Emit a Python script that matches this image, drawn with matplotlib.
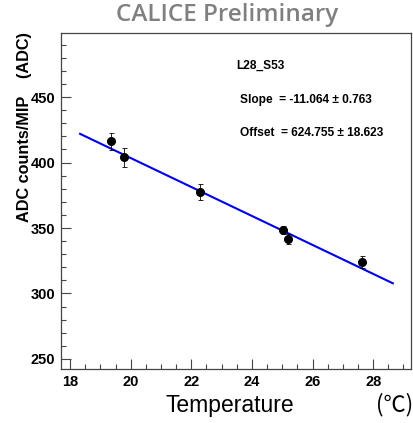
import matplotlib
matplotlib.use('Agg')
import matplotlib.pyplot as plt
from matplotlib.ticker import MultipleLocator
import numpy as np

# Measured points (temperature in C, ADC counts per MIP)
temperature = [19.35, 19.78, 22.29, 25.04, 25.18, 27.64]
adc_per_mip = [416.4, 404.0, 377.7, 348.2, 341.3, 323.8]
adc_error = [6.5, 7.2, 6.0, 3.0, 3.8, 4.5]

# Linear fit result
slope = -11.064
offset = 624.755
fit_range = [18.33, 28.65]

plt.rcParams['font.family'] = ['Liberation Sans', 'DejaVu Sans']

fig = plt.figure(figsize=(4.14, 4.23), dpi=100)
ax = fig.add_axes([0.1473, 0.1277, 0.8455, 0.7943])

fit_x = np.array(fit_range)
ax.plot(fit_x, offset + slope * fit_x, color='#0000ee', linewidth=1.5, zorder=2)
ax.errorbar(temperature, adc_per_mip, yerr=adc_error, fmt='o', color='black',
            markersize=5.5, elinewidth=0.6, capsize=1.8, capthick=0.6, zorder=3)

ax.set_xlim(17.7, 29.25)
ax.set_ylim(242.3, 499)
ax.xaxis.set_major_locator(MultipleLocator(2))
ax.xaxis.set_minor_locator(MultipleLocator(0.5))
ax.yaxis.set_major_locator(MultipleLocator(50))
ax.yaxis.set_minor_locator(MultipleLocator(10))
ax.tick_params(which='both', direction='in', top=False, right=False, color='#444444')
ax.tick_params(which='major', length=7, width=0.8, labelsize=10.5, pad=4)
ax.tick_params(which='minor', length=3.5, width=0.8)
for lab in ax.get_xticklabels() + ax.get_yticklabels():
    lab.set_fontweight('bold')
for s in ax.spines.values():
    s.set_color('#444444')
    s.set_linewidth(0.9)

# Fit parameters box text
ax.text(0.5, 0.902, 'L28_S53', transform=ax.transAxes, fontsize=8.6,
        fontweight='bold', va='center')
ax.text(0.511, 0.80, 'Slope  = -11.064 \u00b1 0.763', transform=ax.transAxes,
        fontsize=8.6, fontweight='bold', va='center')
ax.text(0.511, 0.702, 'Offset  = 624.755 \u00b1 18.623', transform=ax.transAxes,
        fontsize=8.6, fontweight='bold', va='center')

# Axis titles
fig.text(25 / 414, 1 - 127 / 423, 'ADC counts/MIP    (ADC)', rotation=90,
         fontsize=11.7, fontweight='bold', ha='center', va='center')
fig.text(230 / 414, 1 - 405 / 423, 'Temperature', fontsize=16.5,
         ha='center', va='center')
fig.text(413 / 414, 1 - 405 / 423, '(\u2103)', fontsize=16, ha='right', va='center',
         family=['Noto Sans CJK JP', 'DejaVu Sans'])

fig.text(227 / 414, 1 - 15 / 423, 'CALICE Preliminary', fontsize=17.5,
         fontweight='semibold', color='#808080', ha='center', va='center',
         family=['Open Sans', 'DejaVu Sans'])

fig.savefig('out.png', dpi=100)
